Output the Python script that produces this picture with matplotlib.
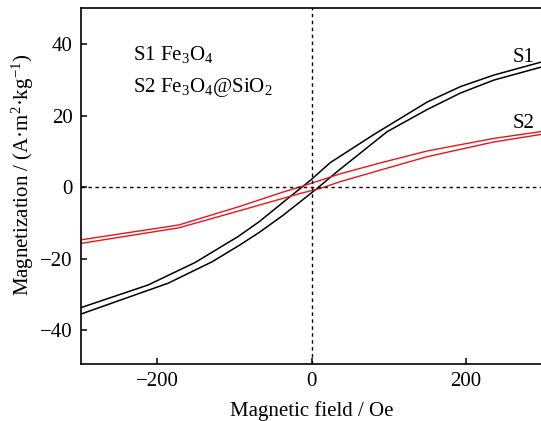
#!/usr/bin/env python3

import matplotlib
matplotlib.use('Agg')
import matplotlib.pyplot as plt

plt.rcParams['font.family'] = ['Liberation Serif', 'DejaVu Serif']
plt.rcParams['mathtext.fontset'] = 'custom'
plt.rcParams['mathtext.rm'] = 'Liberation Serif'
plt.rcParams['mathtext.it'] = 'Liberation Serif:italic'
plt.rcParams['font.size'] = 15

# S1 Fe3O4 loop (two branches)
s1_upper_field = [-300, -212, -151, -95, -68, -28, -2, 24, 80, 150, 193, 236, 300]
s1_upper_mag = [-33.8, -27.4, -21.1, -13.8, -9.7, -2.7, 1.8, 6.8, 14.6, 23.8, 28.1, 31.3, 35.1]
s1_lower_field = [-300, -186, -129, -93, -68, -37, 7, 33, 98, 150, 193, 236, 300]
s1_lower_mag = [-35.6, -26.9, -20.9, -16.2, -12.7, -7.9, -0.4, 4.3, 15.5, 21.7, 26.3, 29.9, 33.7]

# S2 Fe3O4@SiO2 loop
s2_upper_field = [-300, -172, -93, -37, -11, 37, 90, 150, 236, 300]
s2_upper_mag = [-14.8, -10.6, -5.4, -1.4, 0.3, 3.7, 6.8, 10.1, 13.6, 15.6]
s2_lower_field = [-300, -172, -93, -15, 11, 37, 90, 150, 236, 300]
s2_lower_mag = [-15.8, -11.4, -6.6, -1.8, -0.4, 1.5, 4.8, 8.5, 12.6, 14.8]

x_ticks = [-200, 0, 200]
y_ticks = [-40, -20, 0, 20, 40]

fig = plt.figure(figsize=(5.41, 4.21), dpi=100)
# axes runs a little past the right edge, like the cropped original
ax = fig.add_axes([81 / 541, 57 / 421, 462 / 541, 355.7 / 421])

red = '#e8161c'
ax.plot(s1_upper_field, s1_upper_mag, color='black', lw=1.1)
ax.plot(s1_lower_field, s1_lower_mag, color='black', lw=1.1)
ax.plot(s2_upper_field, s2_upper_mag, color=red, lw=1.0)
ax.plot(s2_lower_field, s2_lower_mag, color=red, lw=1.0)

ax.axhline(0, color='black', lw=1.0, ls=(0, (2.5, 2.5)))
ax.axvline(0, color='black', lw=1.0, ls=(0, (2.5, 2.5)))

ax.set_xlim(-299, 300)
ax.set_ylim(-49.5, 50)
ax.set_xticks(x_ticks)
ax.set_yticks(y_ticks)
ax.tick_params(direction='in', length=4.5, width=1.1, pad=6)
ax.spines['right'].set_visible(False)
for s in ['left', 'bottom', 'top']:
    ax.spines[s].set_linewidth(1.2)

ax.set_xlabel('Magnetic field / Oe', labelpad=7)
ax.set_ylabel('Magnetization / (A·m$^2$·kg$^{-1}$)')
ax.yaxis.set_label_coords(-0.097, 0.531)

ax.text(0.1126, 0.855, 'S1 Fe$_3$O$_4$', transform=ax.transAxes, va='baseline')
ax.text(0.1126, 0.765, 'S2 Fe$_3$O$_4$@SiO$_2$', transform=ax.transAxes, va='baseline')
ax.text(260, 35.1, 'S1', va='baseline')
ax.text(260, 16.4, 'S2', va='baseline')

plt.savefig('out.png', dpi=100)
